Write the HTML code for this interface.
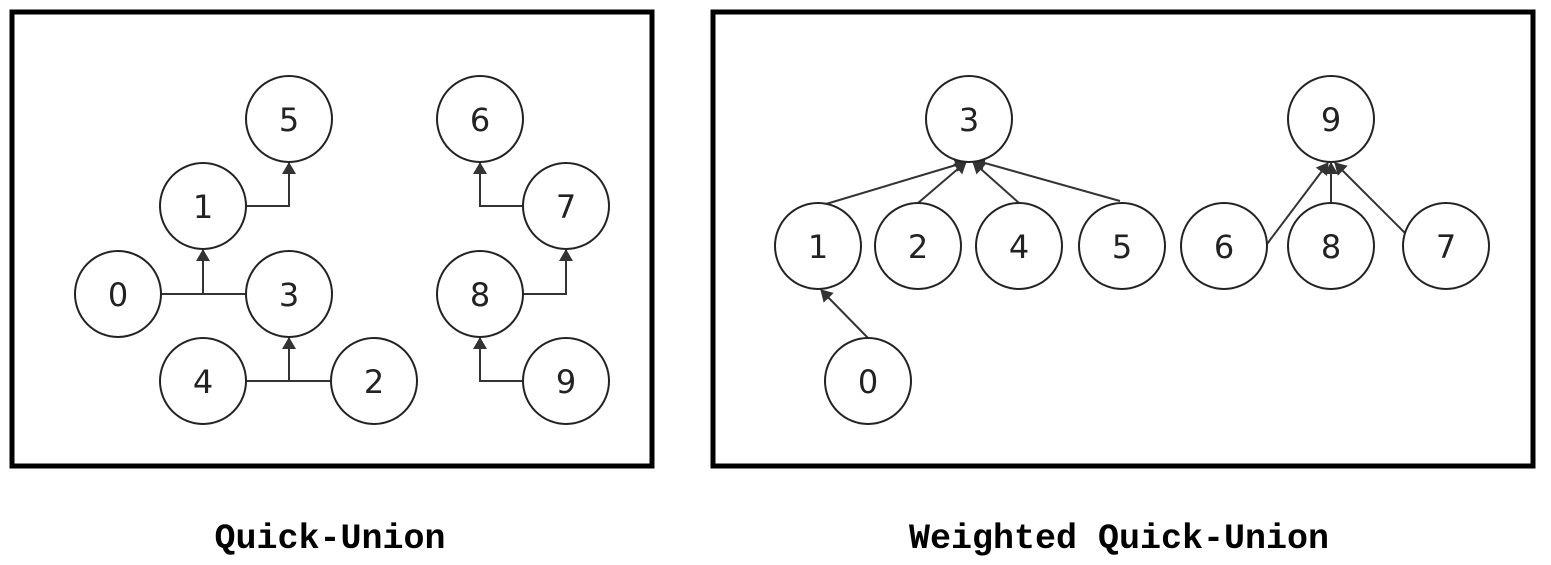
<!DOCTYPE html>
<html><head><meta charset="utf-8"><style>
html,body{margin:0;padding:0;background:#fff;width:1551px;height:565px;overflow:hidden}
svg{display:block}
</style></head><body>
<svg width="1551" height="565" viewBox="0 0 1551 565" xmlns="http://www.w3.org/2000/svg">
<defs>
<marker id="a" markerWidth="12" markerHeight="14" refX="11" refY="7" orient="auto" markerUnits="userSpaceOnUse">
<path d="M0,0 L12,7 L0,14 z" fill="#333"/></marker>
</defs>
<rect x="12" y="12" width="640" height="454" fill="none" stroke="#000" stroke-width="5"/>
<rect x="713" y="12" width="820" height="454" fill="none" stroke="#000" stroke-width="5"/>
<g fill="none" stroke="#333" stroke-width="2">
<polyline points="246,206 289,206 289,163" marker-end="url(#a)"/>
<line x1="161" y1="294" x2="246" y2="294"/>
<line x1="203" y1="294" x2="203" y2="250" marker-end="url(#a)"/>
<line x1="246" y1="381" x2="331" y2="381"/>
<line x1="289" y1="381" x2="289" y2="338" marker-end="url(#a)"/>
<polyline points="523,206 480,206 480,163" marker-end="url(#a)"/>
<polyline points="523,294 566,294 566,250" marker-end="url(#a)"/>
<polyline points="523,381 480,381 480,338" marker-end="url(#a)"/>
<line x1="826" y1="204" x2="966" y2="162" marker-end="url(#a)"/>
<line x1="918" y1="203" x2="966" y2="162" marker-end="url(#a)"/>
<line x1="1019" y1="203" x2="973" y2="162" marker-end="url(#a)"/>
<line x1="1120" y1="201" x2="974" y2="160" marker-end="url(#a)"/>
<line x1="1267" y1="244" x2="1328" y2="163" marker-end="url(#a)"/>
<line x1="1331" y1="203" x2="1331" y2="163" marker-end="url(#a)"/>
<line x1="1406" y1="234" x2="1335" y2="163" marker-end="url(#a)"/>
<line x1="868" y1="338" x2="821" y2="290" marker-end="url(#a)"/>
</g>
<g fill="#fff" stroke="#222" stroke-width="2">
<circle cx="289" cy="119" r="43"/><circle cx="203" cy="206" r="43"/>
<circle cx="118" cy="294" r="43"/><circle cx="289" cy="294" r="43"/>
<circle cx="203" cy="381" r="43"/><circle cx="374" cy="381" r="43"/>
<circle cx="480" cy="119" r="43"/><circle cx="566" cy="206" r="43"/>
<circle cx="480" cy="294" r="43"/><circle cx="566" cy="381" r="43"/>
<circle cx="969" cy="119" r="43"/><circle cx="1331" cy="119" r="43"/>
<circle cx="818" cy="246" r="43"/><circle cx="918" cy="246" r="43"/>
<circle cx="1019" cy="246" r="43"/><circle cx="1122" cy="246" r="43"/>
<circle cx="1224" cy="246" r="43"/><circle cx="1331" cy="246" r="43"/>
<circle cx="1446" cy="246" r="43"/><circle cx="868" cy="381" r="43"/>
</g>
<g font-family="'DejaVu Sans','Liberation Sans',sans-serif" font-size="32" fill="#222" text-anchor="middle">
<text x="289" y="131">5</text><text x="203" y="218">1</text>
<text x="118" y="306">0</text><text x="289" y="306">3</text>
<text x="203" y="393">4</text><text x="374" y="393">2</text>
<text x="480" y="131">6</text><text x="566" y="218">7</text>
<text x="480" y="306">8</text><text x="566" y="393">9</text>
<text x="969" y="131">3</text><text x="1331" y="131">9</text>
<text x="818" y="258">1</text><text x="918" y="258">2</text>
<text x="1019" y="258">4</text><text x="1122" y="258">5</text>
<text x="1224" y="258">6</text><text x="1331" y="258">8</text>
<text x="1446" y="258">7</text><text x="868" y="393">0</text>
</g>
<g font-family="'Liberation Mono',monospace" font-weight="bold" font-size="35" fill="#000" text-anchor="middle">
<text x="330" y="548">Quick-Union</text>
<text x="1119" y="548">Weighted Quick-Union</text>
</g>
</svg>
</body></html>
